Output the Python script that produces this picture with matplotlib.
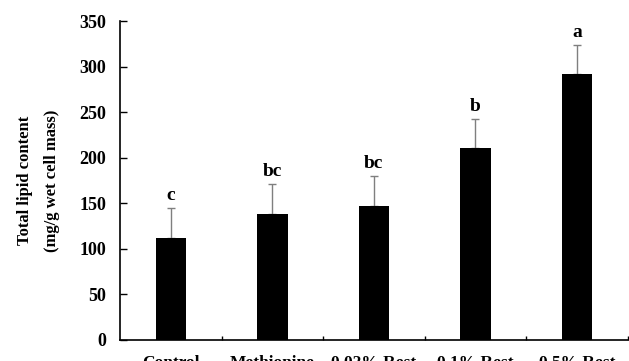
import numpy as np
import matplotlib
matplotlib.use('Agg')
import matplotlib.pyplot as plt

# data
categorias = ['Control', 'Methionine', '0.02% Rest', '0.1% Rest', '0.5% Rest']
valores = [112, 138, 147, 211, 292]
erros = [33, 33, 33, 32, 32]
letras = ['c', 'bc', 'bc', 'b', 'a']

plt.rcParams['font.family'] = ['Liberation Serif', 'DejaVu Serif']
plt.rcParams['font.weight'] = 'bold'

fig = plt.figure(figsize=(6.29, 3.61), dpi=100)
ax = fig.add_axes([0.1908, 0.0582, 0.807, 0.8836])

x = np.arange(len(categorias))
ax.bar(x, valores, width=0.3, color='black', zorder=2)
ax.errorbar(x, valores, yerr=[np.zeros(len(erros)), erros], fmt='none',
            ecolor='#7f7f7f', elinewidth=1, capsize=3, capthick=1, zorder=1)

for xi, v, e, l in zip(x, valores, erros, letras):
    ax.text(xi, v + e + 4, l, ha='center', va='bottom', fontsize=14, fontweight='bold')

ax.set_xlim(-0.5, 4.5)
ax.set_ylim(0, 350)
ax.set_yticks(range(0, 351, 50))
ax.set_xticks(x)
ax.set_xticklabels(categorias, fontsize=12.5, fontweight='bold')
ax.set_xticks(np.arange(0.5, 5, 1), minor=True)
ax.tick_params(axis='x', which='major', length=0, pad=11)
ax.tick_params(axis='x', which='minor', direction='in', length=3, width=1)
ax.tick_params(axis='y', direction='in', length=5, width=1, labelsize=13, pad=10)
for t in ax.get_yticklabels():
    t.set_fontweight('bold')

ax.spines['top'].set_visible(False)
ax.spines['right'].set_visible(False)
ax.spines['left'].set_linewidth(1.2)
ax.spines['bottom'].set_linewidth(1.2)

ax.set_ylabel('Total lipid content\n(mg/g wet cell mass)', fontsize=12,
              fontweight='bold', labelpad=14, linespacing=1.9)

fig.savefig('out.png', dpi=100)
